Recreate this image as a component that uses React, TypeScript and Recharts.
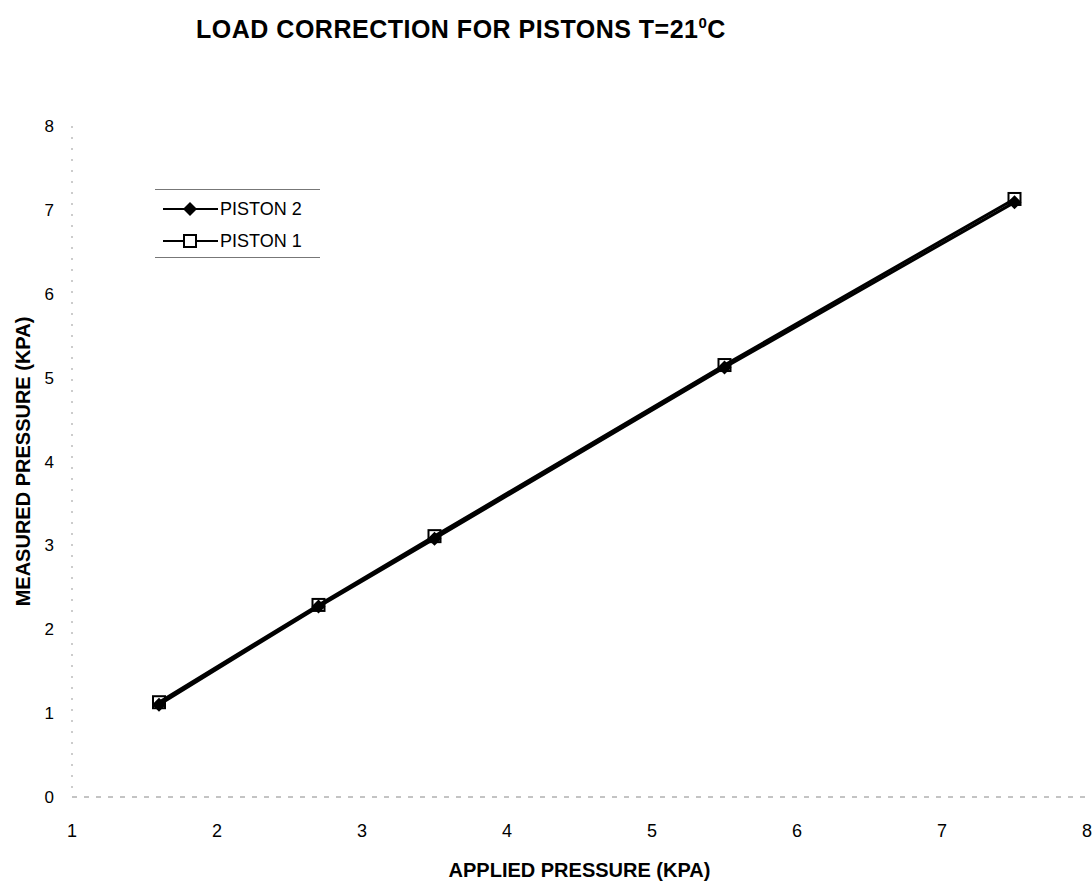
import { Legend, Line, LineChart, XAxis, YAxis } from "recharts"

const applied = [1.6, 2.7, 3.5, 5.5, 7.5]
const piston2 = [1.1, 2.27, 3.08, 5.12, 7.09]
const piston1 = [1.13, 2.29, 3.11, 5.15, 7.13]
const xTicks = [1, 2, 3, 4, 5, 6, 7, 8]
const yTicks = [0, 1, 2, 3, 4, 5, 6, 7, 8]

const data = applied.map((x, i) => ({ x, p2: piston2[i], p1: piston1[i] }))

const font = '"Liberation Sans", Arial, sans-serif'

const Diamond = (props: any) => {
  const { cx, cy } = props
  if (cx == null || cy == null) return null
  return (
    <polygon
      points={`${cx},${cy - 7} ${cx + 7},${cy} ${cx},${cy + 7} ${cx - 7},${cy}`}
      fill="#000"
    />
  )
}

const Square = (props: any) => {
  const { cx, cy } = props
  if (cx == null || cy == null) return null
  return <rect x={cx - 6} y={cy - 6} width={12} height={12} fill="none" stroke="#000" strokeWidth={2} />
}

function LegendBox(props: any) {
  // piston 2 listed first, like the original
  const items = [...(props.payload || [])].sort((a: any, b: any) =>
    String(b.value).localeCompare(String(a.value))
  )
  return (
    <div
      style={{
        width: 165,
        borderTop: "1px solid #777",
        borderBottom: "1px solid #777",
        paddingTop: 3,
        fontFamily: font,
        fontSize: 18,
        color: "#000",
      }}
    >
      {items.map((it: any) => (
        <div key={it.value} style={{ height: 32, display: "flex", alignItems: "center" }}>
          <svg width={65} height={20} style={{ display: "block" }}>
            <line x1={8} y1={10} x2={63} y2={10} stroke="#000" strokeWidth={2} />
            {it.value === "PISTON 2" ? (
              <polygon points="35,3 42,10 35,17 28,10" fill="#000" />
            ) : (
              <rect x={29} y={4} width={12} height={12} fill="#fff" stroke="#000" strokeWidth={2} />
            )}
          </svg>
          <span>{it.value}</span>
        </div>
      ))}
    </div>
  )
}

export default function App() {
  return (
    <div style={{ position: "relative", width: 1092, height: 885, overflow: "hidden", background: "#fff" }}>
      <style>{`body{margin:0}`}</style>
      <div
        style={{
          position: "absolute",
          top: 17,
          left: 161,
          width: 600,
          textAlign: "center",
          fontFamily: font,
          fontWeight: "bold",
          fontSize: 25,
          letterSpacing: 0.5,
          lineHeight: "24px",
          zIndex: 2,
        }}
      >
        LOAD CORRECTION FOR PISTONS T=21
        <span style={{ fontSize: 15, position: "relative", top: -10 }}>0</span>C
      </div>
      <LineChart
        width={1092}
        height={885}
        data={data}
        margin={{ top: 126, right: 5, left: 0, bottom: 0 }}
        style={{ fontFamily: font }}
      >
        <XAxis
          dataKey="x"
          type="number"
          domain={[1, 8]}
          ticks={xTicks}
          height={88}
          tickLine={false}
          tickMargin={21}
          axisLine={{ stroke: "#888", strokeDasharray: "5 7" }}
          tick={{ fill: "#000", fontSize: 18 }}
          label={{
            value: "APPLIED PRESSURE (KPA)",
            position: "insideBottom",
            offset: 8,
            fill: "#000",
            fontSize: 20,
            fontWeight: "bold",
          }}
        />
        <YAxis
          type="number"
          domain={[0, 8]}
          ticks={yTicks}
          width={72}
          tickLine={false}
          tickMargin={12}
          axisLine={{ stroke: "#999", strokeDasharray: "2 9" }}
          tick={{ fill: "#000", fontSize: 17 }}
          label={{
            content: (p: any) => {
              const vb = p.viewBox || {}
              const cy = (vb.y || 0) + (vb.height || 0) / 2
              return (
                <text
                  x={23}
                  y={cy}
                  transform={`rotate(-90 23 ${cy})`}
                  textAnchor="middle"
                  dominantBaseline="central"
                  fill="#000"
                  fontSize={20}
                  fontWeight="bold"
                  fontFamily={font}
                >
                  MEASURED PRESSURE (KPA)
                </text>
              )
            },
          }}
        />
        <Legend
          layout="vertical"
          align="center"
          verticalAlign="middle"
          content={<LegendBox />}
          wrapperStyle={{ top: 189, left: 155, width: 165 }}
        />
        <Line
          name="PISTON 2"
          dataKey="p2"
          stroke="#000"
          strokeWidth={3}
          dot={<Diamond />}
          isAnimationActive={false}
        />
        <Line
          name="PISTON 1"
          dataKey="p1"
          stroke="#000"
          strokeWidth={3}
          dot={<Square />}
          isAnimationActive={false}
        />
      </LineChart>
    </div>
  )
}
